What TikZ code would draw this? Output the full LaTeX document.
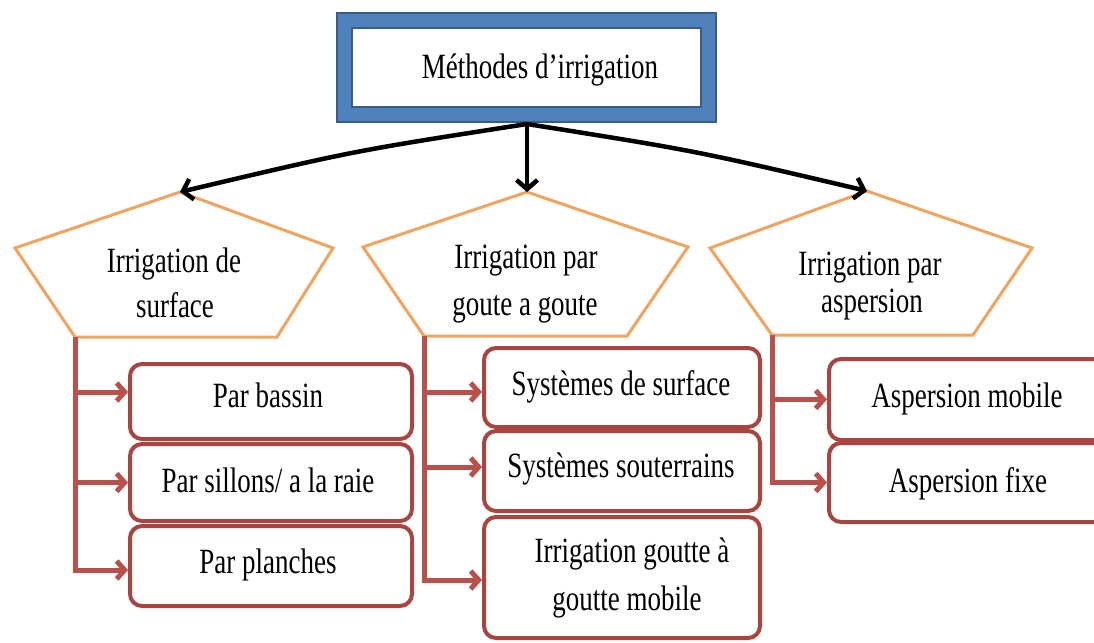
\documentclass[tikz,border=0pt]{standalone}
\usepackage{fontspec}
\setmainfont[FakeStretch=0.76]{Liberation Serif}
\usetikzlibrary{arrows.meta}
\definecolor{bblue}{HTML}{4F81BD}
\definecolor{bbluedark}{HTML}{385D8A}
\definecolor{porange}{HTML}{F2A35E}
\definecolor{redln}{HTML}{BA504C}
\definecolor{redbox}{HTML}{A94541}
\begin{document}
\begin{tikzpicture}[x=1pt,y=-1pt,
  txt/.style={font=\fontsize{35.5}{40}\selectfont, inner sep=0pt, anchor=base},
  penta/.style={draw=porange, line width=3pt, line join=miter, fill=white},
  rbx/.style={draw=redbox, line width=4pt, rounded corners=12pt, fill=white, inner sep=0pt},
  bline/.style={line width=4.5pt, draw=black, -{Straight Barb[length=9pt,width=21pt]}},
  rln/.style={line width=5pt, draw=redln},
  rarrow/.style={rln, -{Straight Barb[length=8pt,width=18pt]}},
]
\useasboundingbox (0,0) rectangle (1094,642);
\clip (0,0) rectangle (1094,642);

% top box
\node[draw=bbluedark, line width=17pt, minimum width=364pt, minimum height=93pt, inner sep=0pt] (topo) at (526.5,67.5) {};
\node[draw=bblue, line width=13pt, minimum width=364pt, minimum height=93pt, inner sep=0pt] (top) at (526.5,67.5) {};
\node[txt] (ttop) at (540,78) {Méthodes d’irrigation};
\coordinate (j) at (527,124);

% pentagons
\coordinate (pLt) at (180,192); \coordinate (pLl) at (15,248); \coordinate (pLr) at (333,248);
\coordinate (pLbl) at (75,337); \coordinate (pLbr) at (277,337);
\coordinate (pMt) at (527,192); \coordinate (pMl) at (363,247); \coordinate (pMr) at (688,247);
\coordinate (pMbl) at (424,336); \coordinate (pMbr) at (627,336);
\coordinate (pRt) at (867,191); \coordinate (pRl) at (710,248); \coordinate (pRr) at (1032,248);
\coordinate (pRbl) at (772,335); \coordinate (pRbr) at (973,335);
\draw[penta] (pLt) -- (pLr) -- (pLbr) -- (pLbl) -- (pLl) -- cycle;
\draw[penta] (pMt) -- (pMr) -- (pMbr) -- (pMbl) -- (pMl) -- cycle;
\draw[penta] (pRt) -- (pRr) -- (pRbr) -- (pRbl) -- (pRl) -- cycle;

\node[txt] (tL1) at (174,272) {Irrigation de};
\node[txt] (tL2) at (175,317) {surface};
\node[txt] (tM1) at (526,268) {Irrigation par};
\node[txt] (tM2) at (525,315) {goute a goute};
\node[txt] (tR1) at (870,275) {Irrigation par};
\node[txt] (tR2) at (872,312) {aspersion};

% black arrows
\draw[bline] (j) .. controls (353,151) .. (pLt);
\draw[bline] (j) -- (pMt);
\draw[bline] (j) .. controls (697,151) .. (pRt);

% boxes
\node[rbx, minimum width=282pt, minimum height=75pt] (b1) at (271,401.5) {};
\node[rbx, minimum width=282pt, minimum height=77pt] (b2) at (271,482.5) {};
\node[rbx, minimum width=282pt, minimum height=80pt] (b3) at (271,566) {};
\node[rbx, minimum width=276pt, minimum height=79pt] (m1) at (622,387.5) {};
\node[rbx, minimum width=276pt, minimum height=80pt] (m2) at (622,471) {};
\node[rbx, minimum width=276pt, minimum height=121pt] (m3) at (622,577.5) {};
\node[rbx, minimum width=285pt, minimum height=81pt] (r1) at (971.5,399.5) {};
\node[rbx, minimum width=285pt, minimum height=79pt] (r2) at (971.5,482.5) {};

\node[txt] (tb1) at (268,407) {Par bassin};
\node[txt] (tb2) at (268,492) {Par sillons/ a la raie};
\node[txt] (tb3) at (268,573) {Par planches};
\node[txt] (tm1) at (621,395) {Systèmes de surface};
\node[txt] (tm2) at (621,477) {Systèmes souterrains};
\node[txt] (tm3) at (632,562) {Irrigation goutte à};
\node[txt] (tm4) at (627,610) {goutte mobile};
\node[txt] (tr1) at (967,407) {Aspersion mobile};
\node[txt] (tr2) at (968,492) {Aspersion fixe};

% red connectors
\coordinate (ab1) at ([yshift=9.5pt]b1.west);
\coordinate (ab2) at (b2.west);
\coordinate (ab3) at ([yshift=-4pt]b3.west);
\coordinate (am1) at ([yshift=-4.5pt]m1.west);
\coordinate (am2) at ([yshift=4pt]m2.west);
\coordinate (am3) at ([yshift=-2.5pt]m3.west);
\coordinate (ar1) at (r1.west);
\coordinate (ar2) at (r2.west);

\draw[rarrow] (pLbl) |- (ab3);
\draw[rarrow] (pLbl |- ab1) -- (ab1);
\draw[rarrow] (pLbl |- ab2) -- (ab2);
\draw[rarrow] (pMbl) |- (am3);
\draw[rarrow] (pMbl |- am1) -- (am1);
\draw[rarrow] (pMbl |- am2) -- (am2);
\draw[rarrow] (pRbl) |- (ar2);
\draw[rarrow] (pRbl |- ar1) -- (ar1);
\end{tikzpicture}
\end{document}
